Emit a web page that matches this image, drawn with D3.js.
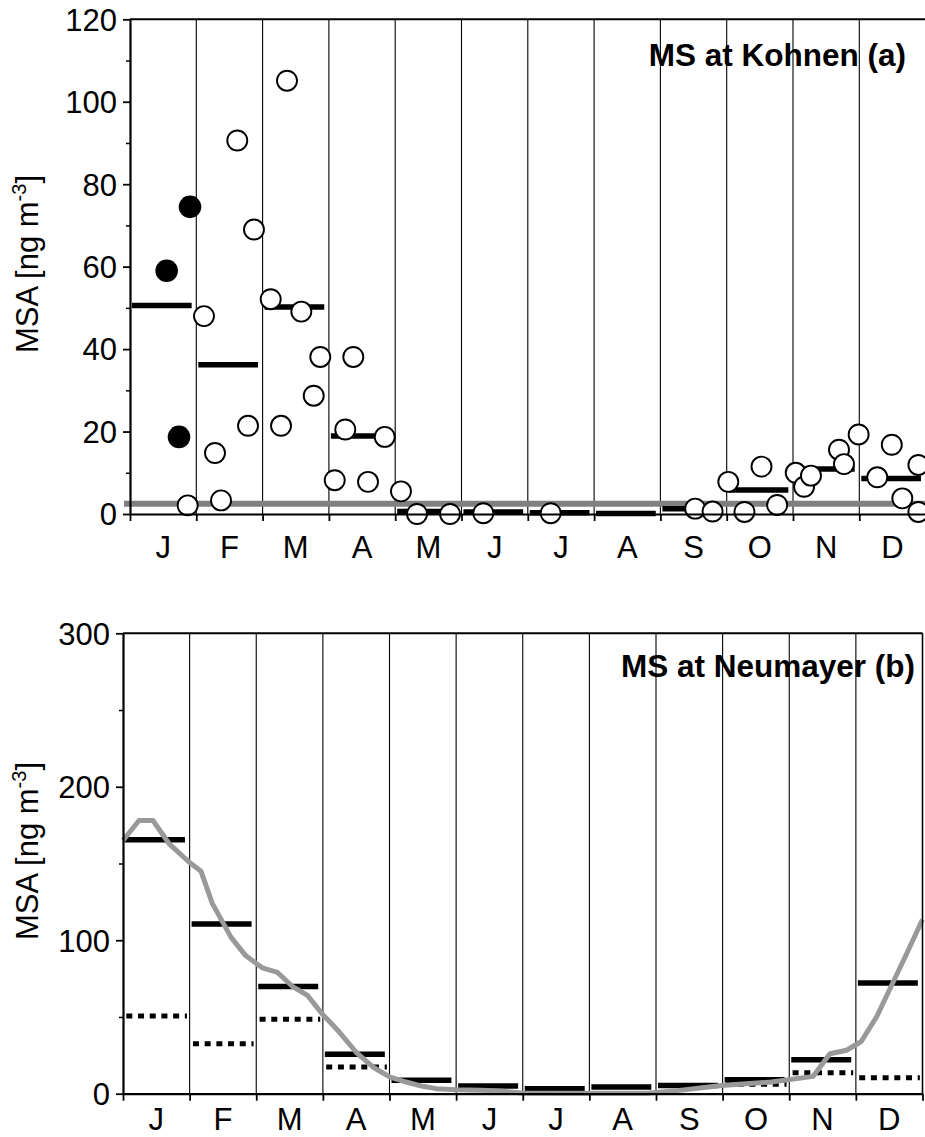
<!DOCTYPE html>
<html>
<head>
<meta charset="utf-8">
<script src="https://cdn.jsdelivr.net/npm/d3@7"></script>
<style>
  html, body { margin: 0; padding: 0; background: #fff; }
  svg { display: block; }
  text { font-family: Arial, "Liberation Sans", sans-serif; fill: #000; }
</style>
</head>
<body>
<svg id="chart" width="925" height="1137"></svg>
<script>
// ---------------- DATA ----------------
const months = ["J","F","M","A","M","J","J","A","S","O","N","D"];

// Panel (a) Kohnen
const kohnenTicksMajor = [0, 20, 40, 60, 80, 100, 120];
const kohnenTicksMinor = [10, 30, 50, 70, 90, 110];
const kohnenMonthlyMean = [50.6, 36.2, 50.2, 18.9, 0.6, 0.5, 0.3, 0.1, 1.3, 5.8, 10.9, 8.6];
const kohnenBackground = 2.5;
// filled circles: position in months (fractional), value
const kohnenFilledT = [0.553, 0.905, 0.739];
const kohnenFilledV = [59.0, 74.5, 18.7];
// open circles
const kohnenOpenT = [0.870, 1.116, 1.282, 1.373, 1.618, 1.780, 1.870, 2.122, 2.278, 2.368,
  2.584, 2.771, 2.870, 3.088, 3.247, 3.368, 3.590, 3.842, 4.087, 4.329, 4.827, 5.329, 6.345,
  8.524, 8.787, 9.024, 9.268, 9.525, 9.761, 10.041, 10.167, 10.271, 10.694, 10.769, 10.990,
  11.271, 11.490, 11.649, 11.891, 11.891];
const kohnenOpenV = [2.1, 48.0, 14.8, 3.3, 90.6, 21.4, 69.0, 52.1, 21.4, 105.1,
  49.1, 28.7, 38.1, 8.2, 20.5, 38.1, 7.8, 18.7, 5.5, 0, 0, 0.2, 0.2,
  1.3, 0.6, 7.8, 0.5, 11.5, 2.2, 10.0, 6.6, 9.3, 15.6, 12.1, 19.3,
  8.9, 16.8, 3.8, 11.9, 0.5];

// Panel (b) Neumayer
const neumayerTicksMajor = [0, 100, 200, 300];
const neumayerTicksMinor = [50, 150, 250];
const neumayerMonthlyMean = [165.5, 110.5, 69.8, 25.7, 8.7, 5.0, 3.3, 4.3, 5.4, 9.1, 22.2, 72.2];
const neumayerDotted = [50.7, 32.6, 48.5, 17.4, null, null, null, null, null, 6.1, 13.7, 10.4];
const neumayerCurveT = [0, 0.24, 0.45, 0.69, 0.99, 1.17, 1.34, 1.62, 1.84, 2.09, 2.32, 2.54, 2.77,
  2.99, 3.25, 3.50, 3.75, 4.00, 4.25, 4.50, 4.70, 5.00, 5.37, 5.67, 5.98, 6.97, 7.87, 8.32,
  8.98, 9.73, 10.36, 10.61, 10.86, 11.08, 11.31, 11.53, 11.76, 12.0];
const neumayerCurveV = [165, 178, 178, 163, 151, 145, 124, 102, 90, 82, 79, 70, 64,
  52, 40, 27, 17.4, 11, 7.6, 4.8, 3.3, 2.6, 2.2, 1.7, 0.5, 0.3, 0.3, 2.0,
  5.4, 7.6, 11.3, 26, 28.3, 34, 50, 70, 91, 113.5];

// ---------------- DRAW ----------------
const svg = d3.select("#chart");
const FONT = 31;

function panel(cfg) {
  const g = svg.append("g");
  const x = cfg.x, y = cfg.y;
  const [y0, y1] = y.range(); // y0 bottom, y1 top
  const [x0, x1] = x.range();

  // vertical month gridlines
  g.append("g").selectAll("line")
    .data(d3.range(1, 13))
    .join("line")
    .attr("x1", d => x(d)).attr("x2", d => x(d))
    .attr("y1", y1).attr("y2", y0)
    .attr("stroke", "#000").attr("stroke-width", 1.1);

  cfg.drawData(g);

  // top border
  g.append("line")
    .attr("x1", x0).attr("x2", cfg.rightEdge)
    .attr("y1", y1).attr("y2", y1)
    .attr("stroke", "#000").attr("stroke-width", 2);
  if (cfg.rightBorder) {
    g.append("line")
      .attr("x1", x(12)).attr("x2", x(12))
      .attr("y1", y1).attr("y2", y0)
      .attr("stroke", "#000").attr("stroke-width", 1.5);
  }

  // y axis minor
  g.append("g").attr("transform", `translate(${x0},0)`)
    .call(d3.axisLeft(y).tickValues(cfg.minor).tickSize(4).tickFormat(""))
    .call(a => a.select(".domain").remove())
    .call(a => a.selectAll("line").attr("stroke-width", 1.5));
  // y axis major
  g.append("g").attr("transform", `translate(${x0},0)`)
    .call(d3.axisLeft(y).tickValues(cfg.major).tickSize(7).tickSizeOuter(0).tickPadding(cfg.labelPad))
    .call(a => a.select(".domain").attr("stroke-width", 2.2))
    .call(a => a.selectAll("line").attr("stroke-width", 1.8))
    .call(a => a.selectAll("text")
      .style("font-family", "Arial, 'Liberation Sans', sans-serif")
      .attr("font-size", FONT).attr("dy", "0.35em"));

  // x axis
  g.append("g").attr("transform", `translate(0,${y0})`)
    .call(d3.axisBottom(x).tickValues(d3.range(0, 13)).tickSize(7).tickSizeOuter(0).tickFormat(""))
    .call(a => a.select(".domain").attr("stroke-width", 2.2).attr("d", `M${x0},0.5H${cfg.rightEdge}`))
    .call(a => a.selectAll("line").attr("stroke-width", 1.8));

  // month labels
  g.append("g").selectAll("text")
    .data(months)
    .join("text")
    .attr("x", (d, i) => x(i + 0.5))
    .attr("y", cfg.monthBaseline)
    .attr("text-anchor", "middle")
    .attr("font-size", FONT)
    .text(d => d);

  // y title
  const t = g.append("text")
    .attr("transform", `translate(38,${cfg.titleCenter}) rotate(-90)`)
    .attr("text-anchor", "middle")
    .attr("font-size", FONT);
  t.append("tspan").text("MSA [ng m");
  t.append("tspan").attr("font-size", 20).attr("dy", -12).text("-3");
  t.append("tspan").attr("dy", 12).text("]");

  // panel title
  g.append("text")
    .attr("x", cfg.labelX).attr("y", cfg.labelY)
    .attr("text-anchor", "end")
    .attr("font-weight", "bold")
    .attr("font-size", 31.5)
    .text(cfg.label);
}

// Panel (a)
const xa = d3.scaleLinear([0, 12], [130, 925.6]);
const ya = d3.scaleLinear([0, 120], [514, 19.3]);
panel({
  x: xa, y: ya, major: kohnenTicksMajor, minor: kohnenTicksMinor,
  rightEdge: 925, rightBorder: false, labelPad: 6,
  monthBaseline: 558, titleCenter: 264,
  label: "MS at Kohnen (a)", labelX: 906, labelY: 66,
  drawData: g => {
    g.append("line")
      .attr("x1", xa(-0.09)).attr("x2", 925)
      .attr("y1", ya(kohnenBackground)).attr("y2", ya(kohnenBackground))
      .attr("stroke", "#808080").attr("stroke-width", 6);
    g.append("g").selectAll("line")
      .data(kohnenMonthlyMean)
      .join("line")
      .attr("x1", (d, i) => xa(i + 0.03)).attr("x2", (d, i) => xa(i + 0.93))
      .attr("y1", d => ya(d)).attr("y2", d => ya(d))
      .attr("stroke", "#000").attr("stroke-width", 5.5);
    g.append("g").selectAll("circle")
      .data(kohnenOpenT.map((t, i) => [t, kohnenOpenV[i]]))
      .join("circle")
      .attr("cx", d => xa(d[0])).attr("cy", d => ya(d[1]))
      .attr("r", 10)
      .attr("fill", "#fff").attr("stroke", "#000").attr("stroke-width", 1.9);
    g.append("g").selectAll("circle")
      .data(kohnenFilledT.map((t, i) => [t, kohnenFilledV[i]]))
      .join("circle")
      .attr("cx", d => xa(d[0])).attr("cy", d => ya(d[1]))
      .attr("r", 11.3)
      .attr("fill", "#000");
  }
});

// Panel (b)
const xb = d3.scaleLinear([0, 12], [123, 922.5]);
const yb = d3.scaleLinear([0, 300], [1093.7, 633.3]);
panel({
  x: xb, y: yb, major: neumayerTicksMajor, minor: neumayerTicksMinor,
  rightEdge: 922.5, rightBorder: true, labelPad: 6,
  monthBaseline: 1130, titleCenter: 851,
  label: "MS at Neumayer (b)", labelX: 915, labelY: 677,
  drawData: g => {
    g.append("g").selectAll("line")
      .data(neumayerMonthlyMean)
      .join("line")
      .attr("x1", (d, i) => xb(i + 0.03)).attr("x2", (d, i) => xb(i + 0.93))
      .attr("y1", d => yb(d)).attr("y2", d => yb(d))
      .attr("stroke", "#000").attr("stroke-width", 5.5);
    g.append("g").selectAll("line")
      .data(neumayerDotted.map((v, i) => [i, v]).filter(d => d[1] != null))
      .join("line")
      .attr("x1", d => xb(d[0] + 0.05)).attr("x2", d => xb(d[0] + 0.96))
      .attr("y1", d => yb(d[1])).attr("y2", d => yb(d[1]))
      .attr("stroke", "#000").attr("stroke-width", 5)
      .attr("stroke-dasharray", "6 5.7");
    g.append("path")
      .datum(neumayerCurveT.map((t, i) => [t, neumayerCurveV[i]]))
      .attr("d", d3.line().x(d => xb(d[0])).y(d => yb(d[1])))
      .attr("fill", "none")
      .attr("stroke", "#999").attr("stroke-width", 5)
      .attr("stroke-linejoin", "round");
  }
});
</script>
</body>
</html>
